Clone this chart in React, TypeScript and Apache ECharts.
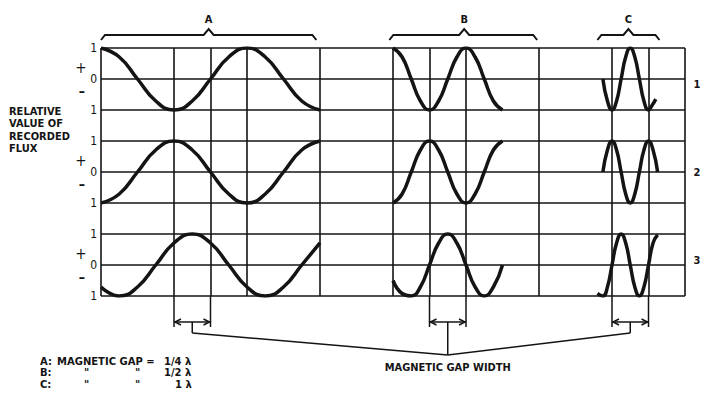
import React, { useEffect, useRef } from "react";
import * as echarts from "echarts";

// y-units: panel 1 centred at 7, panel 2 at 4, panel 3 at 1 (each panel spans centre±1)
const panelCenters = [7, 4, 1];
const panelNames = ["1", "2", "3"];
const yTickLabels = ["1", "0", "1", "1", "0", "1", "1", "0", "1"]; // for y = 0..8
const verticalLines = [0, 4, 6, 8, 12, 16, 18, 20, 24, 28, 30, 32];

// Group A (gap = 1/4 λ)
const aX = [0, 1, 2, 3, 4, 5, 6, 7, 8, 9, 10, 11, 12];
const a1 = [1, 0.71, 0, -0.71, -1, -0.71, 0, 0.71, 1, 0.71, 0, -0.71, -1];
const a2 = [-1, -0.71, 0, 0.71, 1, 0.71, 0, -0.71, -1, -0.71, 0, 0.71, 1];
const a3 = [-0.71, -1, -0.71, 0, 0.71, 1, 0.71, 0, -0.71, -1, -0.71, 0, 0.71];

// Group B (gap = 1/2 λ)
const bX = [16, 16.5, 17, 17.5, 18, 18.5, 19, 19.5, 20, 20.5, 21, 21.5, 22];
const b1 = [1, 0.71, 0, -0.71, -1, -0.71, 0, 0.71, 1, 0.71, 0, -0.71, -1];
const b2 = [-1, -0.71, 0, 0.71, 1, 0.71, 0, -0.71, -1, -0.71, 0, 0.71, 1];
const b3 = [-0.5, -0.92, -1, -0.71, 0, 0.71, 1, 0.71, 0, -0.71, -1, -0.71, 0];

// Group C (gap = 1 λ)
const c1X = [27.5, 27.75, 28, 28.25, 28.5, 28.75, 29, 29.25, 29.5, 29.75, 30, 30.2, 30.4];
const c1 = [0, -0.71, -1, -0.71, 0, 0.71, 1, 0.71, 0, -0.71, -1, -0.85, -0.65];
const c2X = [27.5, 27.75, 28, 28.25, 28.5, 28.75, 29, 29.25, 29.5, 29.75, 30, 30.25, 30.5];
const c2 = [0, 0.71, 1, 0.71, 0, -0.71, -1, -0.71, 0, 0.71, 1, 0.71, 0];
const c3X = [27.2, 27.5, 27.75, 28, 28.25, 28.5, 28.75, 29, 29.25, 29.5, 29.75, 30, 30.25, 30.5];
const c3 = [-0.92, -1, -0.71, 0, 0.71, 1, 0.71, 0, -0.71, -1, -0.71, 0, 0.71, 0.97];

const groupLabels = ["A", "B", "C"];
const gapPairs = [
  [4, 6],
  [18, 20],
  [28, 30],
];
const legendRows = [
  ["A:", "MAGNETIC GAP =", "", "1/4 λ"],
  ["B:", "\"", "\"", "1/2 λ"],
  ["C:", "\"", "\"", "1 λ"],
];
const gapWidthLabel = "MAGNETIC GAP WIDTH";
const yTitle = "RELATIVE\nVALUE OF\nRECORDED\nFLUX";

const INK = "#141414";
const FONT = '"DejaVu Sans Condensed", "DejaVu Sans", sans-serif';
const FONT_WIDE = '"DejaVu Sans", sans-serif';

const curves: [number[], number[], number][] = [
  [aX, a1, 0], [aX, a2, 1], [aX, a3, 2],
  [bX, b1, 0], [bX, b2, 1], [bX, b3, 2],
  [c1X, c1, 0], [c2X, c2, 1], [c3X, c3, 2],
];

export default function App() {
  const ref = useRef<HTMLDivElement>(null);
  useEffect(() => {
    document.body.style.margin = "0";
    const chart = echarts.init(ref.current!, null, { renderer: "svg" });
    const series: any[] = curves.map(([xs, vs, p], i) => ({
      type: "line",
      smooth: true,
      showSymbol: false,
      silent: true,
      z: 5,
      lineStyle: { color: INK, width: 3.5 },
      data: xs.map((x, k) => [x, panelCenters[p] + vs[k]]),
      markLine:
        i === 0
          ? {
              silent: true,
              symbol: "none",
              label: { show: false },
              lineStyle: { color: INK, width: 1.6, type: "solid" },
              data: verticalLines.map((x) => ({ xAxis: x })),
            }
          : undefined,
    }));
    chart.setOption({
      animation: false,
      backgroundColor: "#ffffff",
      grid: { left: 101, right: 21, top: 48, bottom: 98 },
      xAxis: {
        type: "value",
        min: 0,
        max: 32,
        axisLine: { show: false },
        axisTick: { show: false },
        axisLabel: { show: false },
        splitLine: { show: false },
      },
      yAxis: {
        type: "value",
        min: 0,
        max: 8,
        interval: 1,
        axisLine: { show: false },
        axisTick: { show: false },
        axisLabel: {
          margin: 4,
          color: INK,
          fontSize: 12,
          fontFamily: FONT,
          formatter: (v: number) => yTickLabels[Math.round(v)],
        },
        splitLine: { show: true, lineStyle: { color: INK, width: 1.6 } },
      },
      series,
    });

    const P = (x: number, y: number) => chart.convertToPixel({ gridIndex: 0 }, [x, y]) as number[];
    const g: any[] = [];
    const txt = (text: string, x: number, y: number, size = 11, align = "center", extra: any = {}) =>
      g.push({
        type: "text",
        x,
        y,
        silent: true,
        style: {
          text,
          fill: INK,
          fontSize: size,
          fontFamily: FONT,
          fontWeight: "bold",
          align,
          verticalAlign: "middle",
          ...extra,
        },
      });
    const line = (x1: number, y1: number, x2: number, y2: number, w = 1.5) =>
      g.push({ type: "line", silent: true, shape: { x1, y1, x2, y2 }, style: { stroke: INK, lineWidth: w } });
    const poly = (points: number[][], w = 1.5) =>
      g.push({ type: "polyline", silent: true, shape: { points }, style: { stroke: INK, lineWidth: w, fill: null } });

    // + / – signs beside each panel, and panel numbers on the right
    panelCenters.forEach((c, i) => {
      const [, yc] = P(0, c);
      txt("+", 81, yc - 11, 15, "center", { fontWeight: "normal" });
      txt("–", 82, yc + 12, 14);
      const [xr] = P(32, c);
      txt(panelNames[i], xr + 12, yc + (i === 0 ? 5 : i === 1 ? 0 : -5), 11);
    });

    // left title
    g.push({
      type: "text",
      x: 9,
      y: 105,
      silent: true,
      style: {
        text: yTitle,
        fill: INK,
        fontSize: 11,
        fontFamily: FONT,
        fontWeight: "bold",
        lineHeight: 12.5,
        align: "left",
        verticalAlign: "top",
      },
    });

    // brackets above the groups
    const brackets = [
      [0, 11.8, 5.9],
      [15.8, 23.9, 19.9],
      [27.2, 30.6, 28.9],
    ];
    brackets.forEach(([x0, x1, xm], i) => {
      const a = P(x0, 8)[0];
      const b = P(x1, 8)[0];
      const m = P(xm, 8)[0];
      poly([[a, 40], [a + 4, 35], [m - 5, 35], [m, 29], [m + 5, 35], [b - 4, 35], [b, 40]], 2);
      txt(groupLabels[i], m, 19, 11);
    });

    // gap markers below the grid
    const [, yb] = P(0, 0);
    const ya = yb + 26;
    const junction = [P(19, 0)[0], yb + 59];
    gapPairs.forEach(([g1, g2], i) => {
      const x1 = P(g1, 0)[0];
      const x2 = P(g2, 0)[0];
      const xm = (x1 + x2) / 2;
      line(x1, yb, x1, yb + 31);
      line(x2, yb, x2, yb + 31);
      line(x1, ya, x2, ya);
      poly([[x1 + 7, ya - 3], [x1 + 1, ya], [x1 + 7, ya + 3]], 1.5);
      poly([[x2 - 7, ya - 3], [x2 - 1, ya], [x2 - 7, ya + 3]], 1.5);
      if (i === 1) {
        line(xm, ya, xm, junction[1]);
      } else {
        line(xm, ya, xm, yb + 37);
        line(xm, yb + 37, junction[0], junction[1]);
      }
    });
    txt(gapWidthLabel, junction[0], junction[1] + 12, 11);

    // legend bottom-left
    const lg = { fontFamily: FONT_WIDE, lineHeight: 11 };
    legendRows.forEach((row, r) => {
      const y = 361 + r * 11.5;
      txt(row[0], 40, y, 10, "left", lg);
      txt(row[1], r === 0 ? 57 : 84, y, 10, "left", lg);
      if (row[2]) txt(row[2], 135, y, 10, "left", lg);
      txt(row[3], r === 2 ? 175 : 164, y, 10, "left", lg);
    });

    chart.setOption({ graphic: { elements: g } });
    return () => chart.dispose();
  }, []);
  return <div ref={ref} style={{ width: 706, height: 394 }} />;
}
